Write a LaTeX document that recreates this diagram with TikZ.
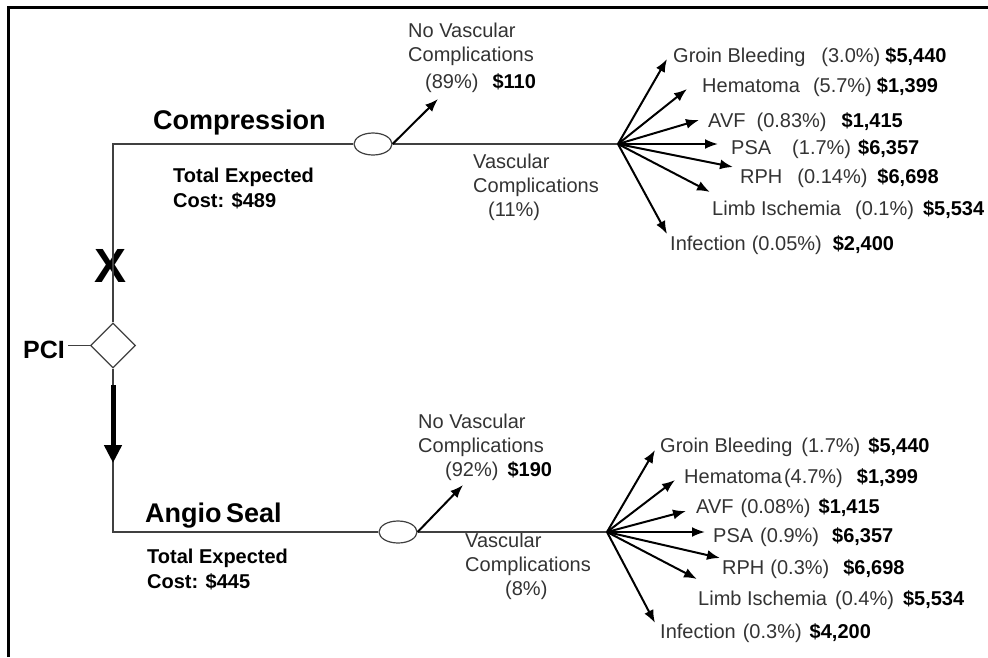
\documentclass[tikz,border=0pt]{standalone}
\usepackage{fontspec}
\setmainfont{Liberation Sans}
\usetikzlibrary{arrows.meta}
\usetikzlibrary{shapes.geometric}

\newcommand{\outcome}[5]{#1\hspace{#2pt}(#3\%)\hspace{#4pt}\textbf{\color{black}\$#5}}

\begin{document}
\begin{tikzpicture}[x=1pt, y=-1pt,
    branch/.style={black!75, line width=1.2pt},
    outcome arrow/.style={line width=2pt, -{Latex[length=13pt, width=10pt]}},
    chosen arrow/.style={line width=5pt, -{Triangle[length=18pt, width=17pt]}},
    chance/.style={ellipse, draw=black!75, line width=1.2pt, minimum width=38pt, minimum height=22pt, inner sep=0},
    choice/.style={diamond, draw=black!75, line width=1.2pt, minimum width=45pt, minimum height=45pt, inner sep=0},
    lbl/.style={inner sep=0, anchor=base west, text=black!80, font=\fontsize{20}{24}\selectfont},
    block/.style={inner sep=0, anchor=north west, align=left, text=black!80, font=\fontsize{20}{24}\selectfont},
    cost/.style={inner sep=0, anchor=north west, align=left, font=\fontsize{20}{25}\selectfont\bfseries},
    arm/.style={inner sep=0, anchor=base west, font=\fontsize{27}{30}\selectfont\bfseries}]
    \useasboundingbox (0, 0) rectangle (988, 657);
    \draw [line width=3pt] (8.5, 657) -- (8.5, 7.5) -- (988, 7.5);

    \node (pci) [anchor=base west, inner sep=3pt, font=\fontsize{25}{25}\selectfont\bfseries, at={(20, 358)}] {PCI};
    \node (decision) [choice, at={(113, 345.5)}] {};
    \node (comp-chance) [chance, at={(373, 144)}] {};
    \node (angio-chance) [chance, at={(398, 532)}] {};
    \node (reject) [font=\fontsize{48}{48}\selectfont\bfseries, inner sep=0, at={(111, 265.5)}] {X};

    \node (comp) [arm, at={(153, 129)}] {Compression};
    \node (comp-cost) [cost, at={(173, 167.5)}] {Total Expected\\Cost: \$489};
    \node (angio) [arm, at={(145, 522)}] {Angio\,Seal};
    \node (angio-cost) [cost, at={(147, 548.5)}] {Total Expected\\Cost: \$445};

    \node (comp-none) [block, at={(408, 22.5)}] {No Vascular\\Complications\\[3pt]\hspace*{17pt}(89\%)\hspace{14pt}\textbf{\color{black}\$110}};
    \node (comp-vasc) [block, at={(473, 153.5)}] {Vascular\\Complications\\\hspace*{15pt}(11\%)};
    \node (angio-none) [block, at={(418, 413.5)}] {No Vascular\\Complications\\\hspace*{27pt}(92\%)\hspace{9pt}\textbf{\color{black}\$190}};
    \node (angio-vasc) [block, at={(465, 532.5)}] {Vascular\\Complications\\\hspace*{40pt}(8\%)};

    \node (comp-groin) [lbl, at={(673, 62)}] {\outcome{Groin Bleeding}{16}{3.0}{5}{5,440}};
    \node (comp-hema) [lbl, at={(702, 92)}] {\outcome{Hematoma}{13}{5.7}{5}{1,399}};
    \node (comp-avf) [lbl, at={(708, 127)}] {\outcome{AVF}{11}{0.83}{15}{1,415}};
    \node (comp-psa) [lbl, at={(731, 154)}] {\outcome{PSA}{21}{1.7}{7}{6,357}};
    \node (comp-rph) [lbl, at={(740, 183)}] {\outcome{RPH}{15}{0.14}{10}{6,698}};
    \node (comp-limb) [lbl, at={(712, 215)}] {\outcome{Limb Ischemia}{14}{0.1}{9}{5,534}};
    \node (comp-inf) [lbl, at={(670, 250)}] {\outcome{Infection}{6}{0.05}{11}{2,400}};

    \node (angio-groin) [lbl, at={(660, 452)}] {\outcome{Groin Bleeding}{9}{1.7}{8}{5,440}};
    \node (angio-hema) [lbl, at={(684, 483)}] {\outcome{Hematoma}{2}{4.7}{14}{1,399}};
    \node (angio-avf) [lbl, at={(696, 513)}] {\outcome{AVF}{7}{0.08}{8}{1,415}};
    \node (angio-psa) [lbl, at={(713, 542)}] {\outcome{PSA}{7}{0.9}{13}{6,357}};
    \node (angio-rph) [lbl, at={(722, 574)}] {\outcome{RPH}{6}{0.3}{14}{6,698}};
    \node (angio-limb) [lbl, at={(698, 605)}] {\outcome{Limb Ischemia}{8}{0.4}{9}{5,534}};
    \node (angio-inf) [lbl, at={(660, 638)}] {\outcome{Infection}{7}{0.3}{8}{4,200}};

    \coordinate (comp-fan) at (618, 144);
    \coordinate (angio-fan) at (607, 532);
    \coordinate (comp-none-tip) at (438, 99);
    \coordinate (angio-none-tip) at (463, 485);
    \coordinate (pick-start) at (113, 385);
    \coordinate (pick-end) at (113, 463);

    \coordinate (comp-groin-tip) at (667, 59);
    \coordinate (comp-hema-tip) at (687, 89);
    \coordinate (comp-avf-tip) at (699, 120);
    \coordinate (comp-psa-tip) at (718, 144);
    \coordinate (comp-rph-tip) at (733, 167);
    \coordinate (comp-limb-tip) at (710, 192);
    \coordinate (comp-inf-tip) at (667, 234);

    \coordinate (angio-groin-tip) at (655, 450);
    \coordinate (angio-hema-tip) at (675, 480);
    \coordinate (angio-avf-tip) at (686, 511);
    \coordinate (angio-psa-tip) at (705, 532);
    \coordinate (angio-rph-tip) at (720, 558);
    \coordinate (angio-limb-tip) at (697, 579);
    \coordinate (angio-inf-tip) at (655, 623);

    \draw [branch] (pci.east |- decision.west) -- (decision.west);
    \draw [branch] (decision.north) |- (comp-chance.west);
    \draw [branch] (decision.south) |- (angio-chance.west);
    \draw [branch] (comp-chance.east) -- (comp-fan);
    \draw [branch] (angio-chance.east) -- (angio-fan);
    \draw [chosen arrow] (pick-start) -- (pick-end);

    \draw [outcome arrow] (comp-chance.east) -- (comp-none-tip);
    \draw [outcome arrow] (angio-chance.east) -- (angio-none-tip);

    \draw [outcome arrow] (comp-fan) -- (comp-groin-tip);
    \draw [outcome arrow] (comp-fan) -- (comp-hema-tip);
    \draw [outcome arrow] (comp-fan) -- (comp-avf-tip);
    \draw [outcome arrow] (comp-fan) -- (comp-psa-tip);
    \draw [outcome arrow] (comp-fan) -- (comp-rph-tip);
    \draw [outcome arrow] (comp-fan) -- (comp-limb-tip);
    \draw [outcome arrow] (comp-fan) -- (comp-inf-tip);

    \draw [outcome arrow] (angio-fan) -- (angio-groin-tip);
    \draw [outcome arrow] (angio-fan) -- (angio-hema-tip);
    \draw [outcome arrow] (angio-fan) -- (angio-avf-tip);
    \draw [outcome arrow] (angio-fan) -- (angio-psa-tip);
    \draw [outcome arrow] (angio-fan) -- (angio-rph-tip);
    \draw [outcome arrow] (angio-fan) -- (angio-limb-tip);
    \draw [outcome arrow] (angio-fan) -- (angio-inf-tip);
\end{tikzpicture}
\end{document}
